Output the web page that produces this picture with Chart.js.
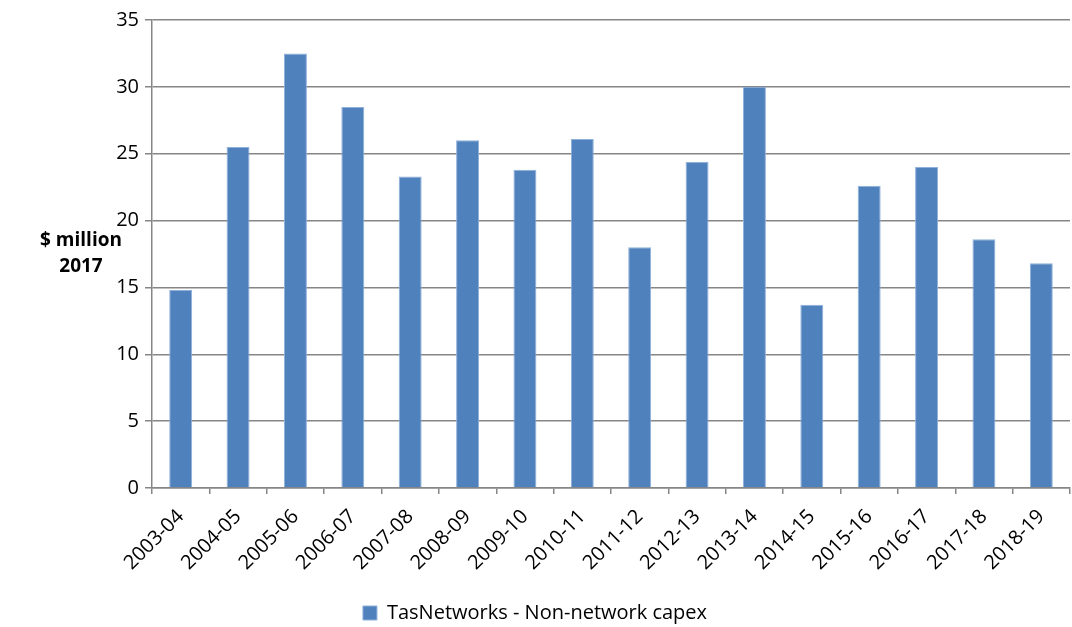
<!DOCTYPE html>
<html>
<head>
<meta charset="utf-8">
<script src="https://cdn.jsdelivr.net/npm/chart.js@4/dist/chart.umd.min.js"></script>
<style>
  html, body { margin: 0; padding: 0; background: #fff; }
  #wrap { width: 1072px; height: 627px; }
</style>
</head>
<body>
<div id="wrap"><canvas id="myChart" width="1072" height="627"></canvas></div>
<script>
var years = ['2003-04', '2004-05', '2005-06', '2006-07', '2007-08', '2008-09', '2009-10', '2010-11',
             '2011-12', '2012-13', '2013-14', '2014-15', '2015-16', '2016-17', '2017-18', '2018-19'];
var capex = [14.8, 25.5, 32.5, 28.5, 23.3, 26.0, 23.8, 26.1, 18.0, 24.4, 30.0, 13.7, 22.6, 24.0, 18.6, 16.8];
var seriesName = 'TasNetworks - Non-network capex';
var yTitle = ['$ million', '2017'];

var fontFam = "'Open Sans', 'Noto Sans', sans-serif";
var gridGrey = '#868686';

// horizontal y axis title, like the excel original
var yTitlePlugin = {
  id: 'yTitle',
  afterDraw: function(chart) {
    var c = chart.ctx;
    c.save();
    c.fillStyle = '#000';
    c.font = 'bold 19px ' + fontFam;
    c.textAlign = 'center';
    c.textBaseline = 'middle';
    c.fillText(yTitle[0], 81, 241);
    c.fillText(yTitle[1], 81, 267);
    c.restore();
  }
};

var ctx = document.getElementById('myChart').getContext('2d');
var myChart = new Chart(ctx, {
    type: 'bar',
    data: {
        labels: years,
        datasets: [{
            label: seriesName,
            data: capex,
            backgroundColor: '#4F81BD',
            borderColor: '#8FB0DA',
            borderWidth: 1,
            categoryPercentage: 0.8,
            barPercentage: 0.5
        }]
    },
    options: {
      responsive: false,
      animation: false,
      layout: { padding: { top: 20, right: 2, left: 0, bottom: -6 } },
      plugins: {
        legend: {
          position: 'bottom',
          labels: {
            font: { family: fontFam, size: 20 },
            color: '#000',
            boxWidth: 14,
            boxHeight: 14,
            padding: 0
          }
        },
        tooltip: { enabled: false }
      },
      scales: {
        x: {
          grid: { offset: true, drawOnChartArea: false, color: gridGrey, tickLength: 6, lineWidth: 1.5 },
          border: { color: gridGrey, width: 1.5 },
          ticks: {
            font: { family: fontFam, size: 20 },
            color: '#000',
            padding: 11,
            maxRotation: 45,
            minRotation: 45,
            autoSkip: false
          },
          afterFit: function(scale) { scale.height = 115; }
        },
        y: {
          min: 0,
          max: 35,
          ticks: {
            stepSize: 5,
            font: { family: fontFam, size: 20 },
            color: '#000',
            padding: 6
          },
          grid: { color: gridGrey, tickLength: 7, lineWidth: 1.5 },
          border: { color: gridGrey, width: 1.5 },
          afterFit: function(scale) { scale.width = 152; }
        }
      }
    },
    plugins: [yTitlePlugin]
});
</script>
</body>
</html>
